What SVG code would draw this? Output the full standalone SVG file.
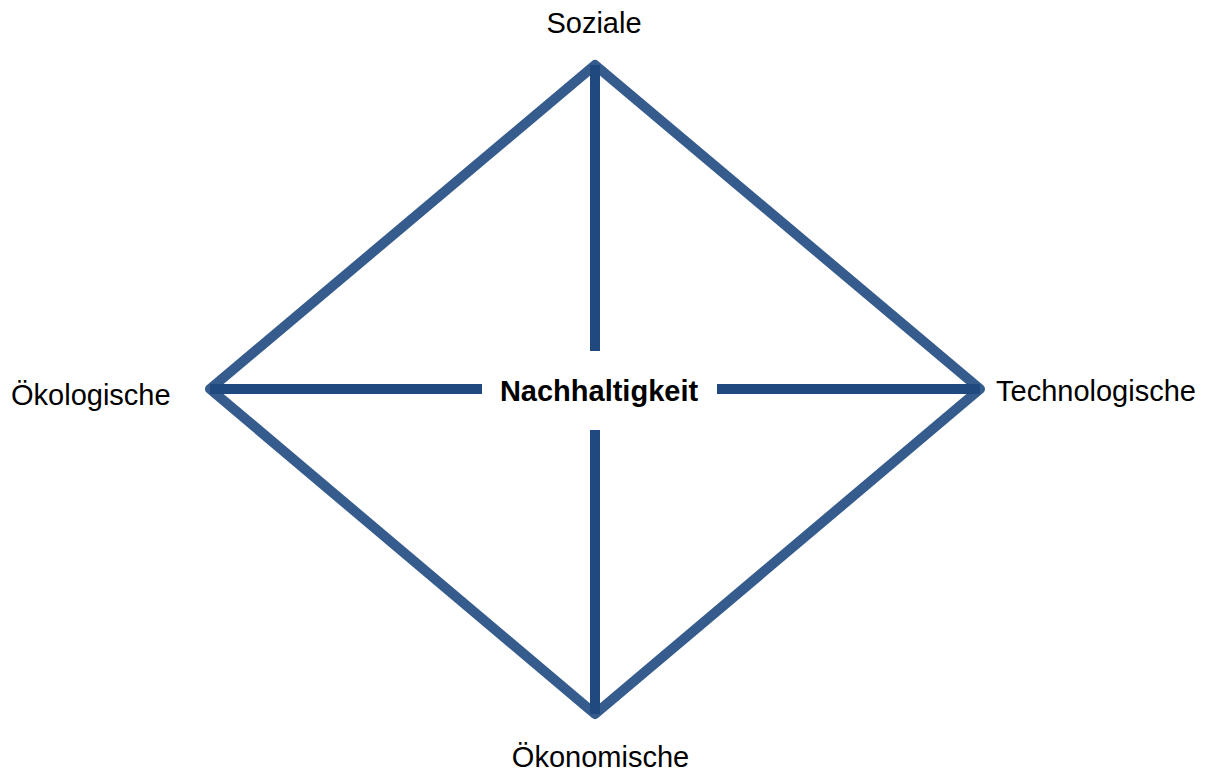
<svg xmlns="http://www.w3.org/2000/svg" width="1219" height="778" viewBox="0 0 1219 778">
<style>
.lbl{font-family:"Liberation Sans",Arial,sans-serif;font-size:29px;fill:#000}
.ctr{font-family:"Liberation Sans",Arial,sans-serif;font-size:29px;font-weight:bold;fill:#000}
.dia{fill:none;stroke:#365c8d;stroke-width:10;stroke-linejoin:round}
.crs{fill:none;stroke:#204a7f;stroke-width:10;stroke-linecap:butt}
</style>
<rect width="1219" height="778" fill="#fff"/>
<g id="connectors">
<polygon class="dia" points="595,65 980,389 595,714 210,389"/>
<line class="crs" x1="595" y1="65" x2="595" y2="351"/>
<line class="crs" x1="595" y1="430" x2="595" y2="714"/>
<line class="crs" x1="210" y1="389" x2="482" y2="389"/>
<line class="crs" x1="717" y1="389" x2="980" y2="389"/>
</g>
<g id="node-center"><text class="ctr" x="599" y="401" text-anchor="middle">Nachhaltigkeit</text></g>
<g id="node-soziale"><text class="lbl" x="594" y="33" text-anchor="middle">Soziale</text></g>
<g id="node-oekologische"><text class="lbl" x="11" y="405">Ökologische</text></g>
<g id="node-technologische"><text class="lbl" x="996" y="401">Technologische</text></g>
<g id="node-oekonomische"><text class="lbl" x="600.5" y="767" text-anchor="middle">Ökonomische</text></g>
</svg>
